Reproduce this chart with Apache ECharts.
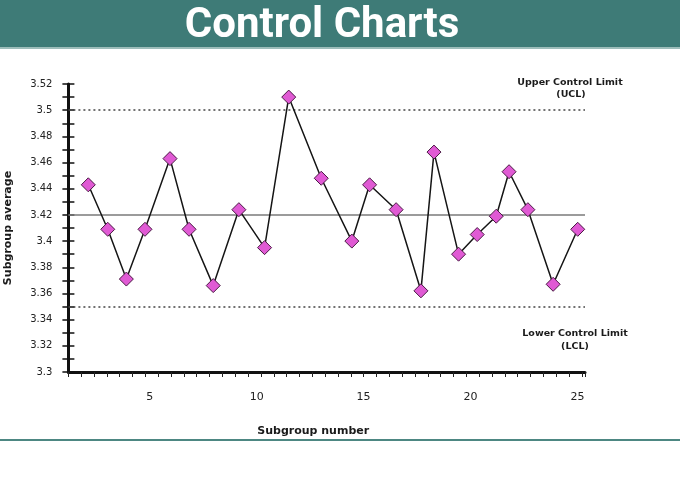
<!DOCTYPE html>
<html>
<head>
<meta charset="utf-8">
<script src="https://cdn.jsdelivr.net/npm/echarts@6/dist/echarts.min.js"></script>
<style>
html,body{margin:0;padding:0;background:#fff;}
#chart{width:680px;height:500px;}
</style>
</head>
<body>
<div id="chart"></div>
<script>
// Data
var subgroupNumber = [2.13, 3.04, 3.91, 4.78, 5.95, 6.84, 7.97, 9.17, 10.37, 11.50, 13.02, 14.45,
  15.28, 16.52, 17.68, 18.29, 19.44, 20.31, 21.20, 21.80, 22.68, 23.86, 25.01];
var subgroupAverage = [3.443, 3.409, 3.371, 3.409, 3.463, 3.409, 3.366, 3.424, 3.395, 3.510, 3.448, 3.400,
  3.443, 3.424, 3.362, 3.468, 3.390, 3.405, 3.419, 3.453, 3.424, 3.367, 3.409];
var centerLine = 3.424;
var upperControlLimit = 3.5;
var lowerControlLimit = 3.348;
var xTickLabels = [5, 10, 15, 20, 25];
var titleText = 'Control Charts';
var uclText = ['Upper Control Limit', '(UCL)'];
var lclText = ['Lower Control Limit', '(LCL)'];

var points = subgroupNumber.map(function (x, i) { return [x, subgroupAverage[i]]; });

var chart = echarts.init(document.getElementById('chart'), null, {renderer: 'canvas'});
var font = 'DejaVu Sans';
var option = {
  backgroundColor: '#ffffff',
  animation: false,
  grid: {left: 68.4, right: 95, top: 84, bottom: 128, containLabel: false, outerBoundsMode: 'none'},
  xAxis: [{
    type: 'value', min: 1.2, max: 25.35,
    name: 'Subgroup number', nameLocation: 'middle', nameGap: 54,
    nameTextStyle: {fontFamily: font, fontWeight: 'bold', fontSize: 11, color: '#1a1a1a', padding: [0, 27, 0, 0]},
    axisLine: {show: true, lineStyle: {color: '#111', width: 3}},
    axisTick: {show: false},
    splitLine: {show: false},
    axisLabel: {customValues: xTickLabels, fontFamily: font, fontSize: 11, color: '#222', margin: 20}
  }, {
    type: 'value', min: 1.2, max: 25.35, interval: 0.6, position: 'bottom',
    axisLine: {show: false},
    axisTick: {show: true, length: 5, lineStyle: {color: '#222', width: 1}},
    axisLabel: {show: false},
    splitLine: {show: false}
  }],
  yAxis: [{
    type: 'value', min: 3.3, max: 3.52, interval: 0.02,
    name: 'Subgroup average', nameLocation: 'middle', nameGap: 55, nameRotate: 90,
    nameTextStyle: {fontFamily: font, fontWeight: 'bold', fontSize: 11, color: '#1a1a1a'},
    axisLine: {show: true, lineStyle: {color: '#111', width: 3}},
    axisTick: {show: true, length: 6, lineStyle: {color: '#111', width: 1.5}},
    minorTick: {show: true, splitNumber: 2, length: 6, lineStyle: {color: '#111', width: 1.5}},
    splitLine: {show: false},
    axisLabel: {fontFamily: font, fontSize: 10, color: '#222', margin: 16}
  }, {
    type: 'value', min: 3.3, max: 3.52, interval: 0.02, position: 'left',
    axisLine: {show: false},
    axisTick: {show: true, inside: true, length: 6, lineStyle: {color: '#111', width: 1.5}},
    minorTick: {show: true, splitNumber: 2, length: 6, lineStyle: {color: '#111', width: 1.5}},
    splitLine: {show: false},
    axisLabel: {show: false}
  }],
  series: [{
    type: 'line',
    data: points,
    xAxisIndex: 0, yAxisIndex: 0,
    symbol: 'diamond', symbolSize: 14,
    itemStyle: {color: '#e05ad4', borderColor: '#4a1a44', borderWidth: 1},
    lineStyle: {color: '#151515', width: 1.5},
    z: 5,
    markLine: {
      silent: true, symbol: ['none', 'none'], label: {show: false}, z: 2,
      data: [
        {yAxis: upperControlLimit, lineStyle: {type: [2, 3], color: '#444', width: 1.5}},
        {yAxis: centerLine, lineStyle: {type: 'solid', color: '#7a7a7a', width: 1.5}},
        {yAxis: lowerControlLimit, lineStyle: {type: [2, 3], color: '#444', width: 1.5}}
      ]
    }
  }],
  graphic: [
    {type: 'rect', left: 0, top: 0, shape: {width: 680, height: 47}, style: {fill: '#3e7b77'}, z: 0},
    {type: 'rect', left: 0, top: 47, shape: {width: 680, height: 2}, style: {fill: '#9dbdba'}, z: 0},
    {type: 'text', x: 322, y: 26, style: {text: titleText, fill: '#ffffff', font: 'bold 42px Roboto', align: 'center', verticalAlign: 'middle'}, z: 3},
    {type: 'text', x: 570, y: 83, style: {text: uclText[0], fill: '#1a1a1a', font: 'bold 9.5px "DejaVu Sans"', align: 'center', verticalAlign: 'middle'}},
    {type: 'text', x: 571, y: 95, style: {text: uclText[1], fill: '#1a1a1a', font: 'bold 9.5px "DejaVu Sans"', align: 'center', verticalAlign: 'middle'}},
    {type: 'text', x: 575, y: 334, style: {text: lclText[0], fill: '#1a1a1a', font: 'bold 9.5px "DejaVu Sans"', align: 'center', verticalAlign: 'middle'}},
    {type: 'text', x: 575, y: 347, style: {text: lclText[1], fill: '#1a1a1a', font: 'bold 9.5px "DejaVu Sans"', align: 'center', verticalAlign: 'middle'}},
    {type: 'rect', left: 0, top: 439, shape: {width: 680, height: 2}, style: {fill: '#4d8782'}, z: 0}
  ]
};
chart.setOption(option);
</script>
</body>
</html>
